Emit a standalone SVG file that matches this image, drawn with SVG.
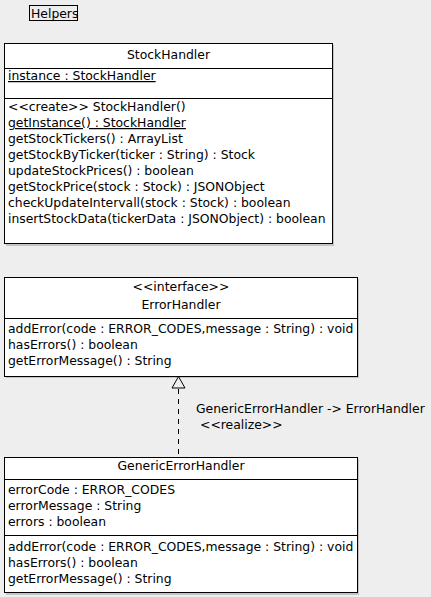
<svg xmlns="http://www.w3.org/2000/svg" width="431" height="597" viewBox="0 0 431 597">
<style>
text{font-family:"DejaVu Sans",sans-serif;font-size:12.4px;fill:#000}
.box{fill:#fff;stroke:#000;stroke-width:1}
.sh{fill:#c4c4c4}
.ln{stroke:#000;stroke-width:1}
.u{text-decoration:underline}
</style>
<rect x="0" y="0" width="431" height="597" fill="#eeeeee"/>
<g id="helpers">
<rect x="29.5" y="5.5" width="48" height="15" fill="none" stroke="#000"/>
<text x="31" y="17.5">Helpers</text>
</g>
<g id="StockHandler">
<rect class="sh" x="6" y="45" width="328" height="201"/>
<rect class="box" x="4.5" y="43.5" width="328" height="200"/>
<line class="ln" x1="4.5" y1="68.5" x2="332.5" y2="68.5"/>
<line class="ln" x1="4.5" y1="98.5" x2="332.5" y2="98.5"/>
<text x="168.5" y="59" text-anchor="middle">StockHandler</text>
<text x="8" y="80" class="u">instance : StockHandler</text>
<text x="8" y="111">&lt;&lt;create&gt;&gt; StockHandler()</text>
<text x="8" y="127" class="u">getInstance() : StockHandler</text>
<text x="8" y="143">getStockTickers() : ArrayList</text>
<text x="8" y="159">getStockByTicker(ticker : String) : Stock</text>
<text x="8" y="175">updateStockPrices() : boolean</text>
<text x="8" y="191">getStockPrice(stock : Stock) : JSONObject</text>
<text x="8" y="207">checkUpdateIntervall(stock : Stock) : boolean</text>
<text x="8" y="223">insertStockData(tickerData : JSONObject) : boolean</text>
</g>
<g id="ErrorHandler">
<rect class="sh" x="6" y="279" width="353" height="99"/>
<rect class="box" x="4.5" y="277.5" width="353" height="99"/>
<line class="ln" x1="4.5" y1="318.5" x2="357.5" y2="318.5"/>
<text x="181" y="291" text-anchor="middle">&lt;&lt;interface&gt;&gt;</text>
<text x="181" y="309" text-anchor="middle">ErrorHandler</text>
<text x="8" y="333">addError(code : ERROR_CODES,message : String) : void</text>
<text x="8" y="349">hasErrors() : boolean</text>
<text x="8" y="365">getErrorMessage() : String</text>
</g>
<g id="GenericErrorHandler">
<rect class="sh" x="6" y="459" width="353" height="136"/>
<rect class="box" x="4.5" y="457.5" width="353" height="135"/>
<line class="ln" x1="4.5" y1="479.5" x2="357.5" y2="479.5"/>
<line class="ln" x1="4.5" y1="535.5" x2="357.5" y2="535.5"/>
<text x="181" y="470" text-anchor="middle">GenericErrorHandler</text>
<text x="8" y="494">errorCode : ERROR_CODES</text>
<text x="8" y="510">errorMessage : String</text>
<text x="8" y="526">errors : boolean</text>
<text x="8" y="551">addError(code : ERROR_CODES,message : String) : void</text>
<text x="8" y="567">hasErrors() : boolean</text>
<text x="8" y="583">getErrorMessage() : String</text>
</g>
<g id="connectors">
<line x1="178.5" y1="389" x2="178.5" y2="457" stroke="#000" stroke-dasharray="5,5"/>
<polygon points="178.5,376.5 172,388 185,388" fill="#eeeeee" stroke="#000"/>
<text x="196" y="413">GenericErrorHandler -&gt; ErrorHandler</text>
<text x="200" y="429">&lt;&lt;realize&gt;&gt;</text>
</g>
</svg>
